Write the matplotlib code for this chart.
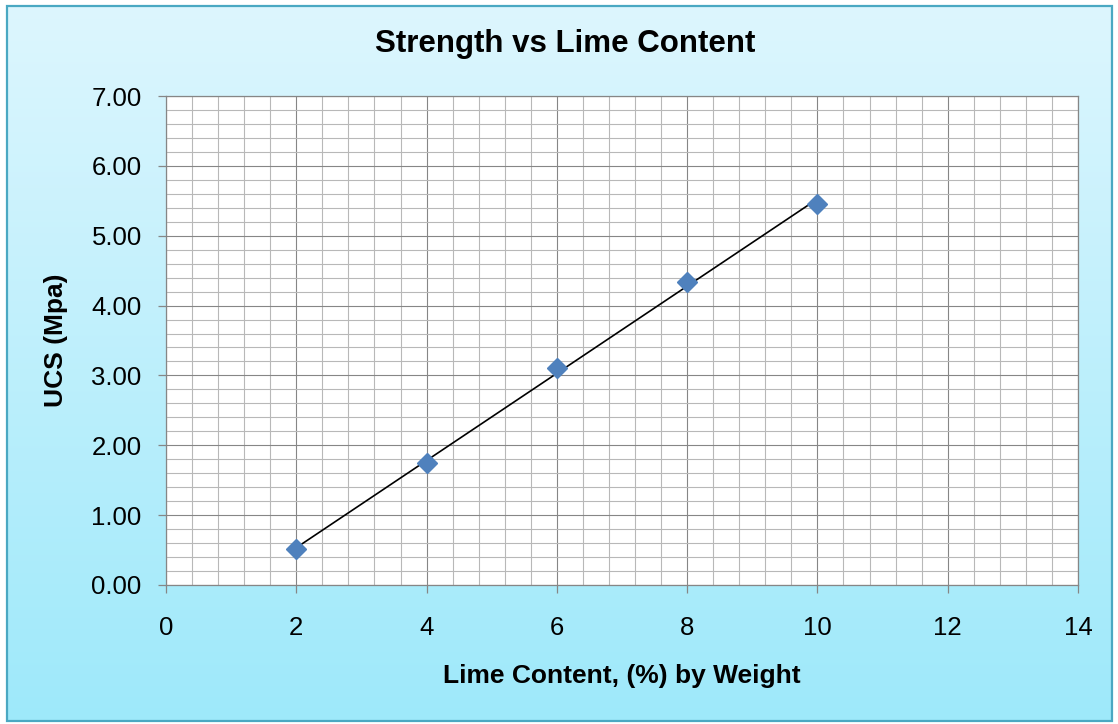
import numpy as np
import matplotlib
matplotlib.use("Agg")
import matplotlib.pyplot as plt
from matplotlib.patches import Rectangle
from matplotlib.ticker import MultipleLocator, FormatStrFormatter

plt.rcParams['font.family'] = ['Liberation Sans', 'DejaVu Sans']

lime_content = [2, 4, 6, 8, 10]
ucs = [0.51, 1.74, 3.11, 4.34, 5.45]

W, H = 1118, 724
fig = plt.figure(figsize=(W / 100, H / 100), dpi=100)

# chart area background: vertical gradient with a teal frame
bg = fig.add_axes([0, 0, 1, 1], zorder=0)
bg.set_xlim(0, W)
bg.set_ylim(H, 0)
bg.axis("off")
top_col = np.array([0xdd, 0xf6, 0xfe]) / 255
bot_col = np.array([0x9e, 0xe9, 0xfa]) / 255
t = np.linspace(0, 1, 256)[:, None]
grad = (top_col * (1 - t) + bot_col * t)[:, None, :]
bg.imshow(grad, extent=(7, 1112, 721, 6), aspect="auto", interpolation="bilinear")
bg.add_patch(Rectangle((7, 6), 1105, 715, fill=False, edgecolor="#4aa8c2", linewidth=1.6))

left, right, top, bottom = 166, 1078, 96, 585
ax = fig.add_axes([left / W, 1 - bottom / H, (right - left) / W, (bottom - top) / H], zorder=1)
ax.set_facecolor("white")

ax.set_xlim(0, 14)
ax.set_ylim(0, 7)
ax.xaxis.set_major_locator(MultipleLocator(2))
ax.xaxis.set_minor_locator(MultipleLocator(0.4))
ax.yaxis.set_major_locator(MultipleLocator(1))
ax.yaxis.set_minor_locator(MultipleLocator(0.2))
ax.yaxis.set_major_formatter(FormatStrFormatter("%.2f"))

ax.grid(which="minor", color="#b8b8b8", linewidth=0.8)
ax.grid(which="major", color="#868686", linewidth=0.8)
ax.set_axisbelow(True)
for s in ax.spines.values():
    s.set_color("#868686")
    s.set_linewidth(0.9)

ax.tick_params(which="major", direction="out", length=5.5, width=0.9, color="#868686",
               labelsize=18.5)
ax.tick_params(axis="x", which="major", pad=17)
ax.tick_params(axis="y", which="major", pad=12)
ax.tick_params(which="minor", length=0)

# linear trendline
slope, intercept = np.polyfit(lime_content, ucs, 1)
xs = np.array([min(lime_content), max(lime_content)])
ax.plot(xs, slope * xs + intercept, color="black", linewidth=1.2, zorder=3)
ax.plot(lime_content, ucs, linestyle="none", marker="D", markersize=10,
        color="#4f81bd", zorder=4)

ax.set_xlabel("Lime Content, (%) by Weight", fontsize=19, fontweight="bold")
ax.xaxis.set_label_coords(0.5, (bottom - 664) / (bottom - top))
ax.set_ylabel("UCS (Mpa)", fontsize=19, fontweight="bold")
ax.yaxis.set_label_coords((68 - left) / (right - left), 0.5)
fig.text(565 / W, 1 - 44 / H, "Strength vs Lime Content", fontsize=22.5, fontweight="bold",
         ha="center", va="center")

fig.savefig("out.png", dpi=100)
